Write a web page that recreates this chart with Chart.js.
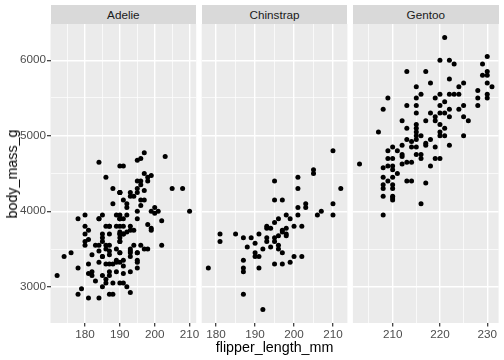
<!DOCTYPE html>
<html>
<head>
<meta charset="utf-8">
<script src="https://cdn.jsdelivr.net/npm/chart.js@4.4.0/dist/chart.umd.min.js"></script>
<style>
  html, body { margin: 0; padding: 0; background: #ffffff; }
  #wrap { position: relative; width: 504px; height: 360px; overflow: hidden; font-family: "Liberation Sans", Arial, sans-serif; }
  #wrap canvas { position: absolute; left: 0; top: 0; }
  .strip { position: absolute; top: 5px; height: 19px; line-height: 19px; background: #D9D9D9; color: #1A1A1A; font-size: 11.7px; text-align: center; }
  .axtitle { position: absolute; color: #000; font-size: 14.3px; white-space: nowrap; }
</style>
</head>
<body>
<div id="wrap">
  <canvas id="c1" width="504" height="360"></canvas>
  <canvas id="c2" width="504" height="360"></canvas>
  <canvas id="c3" width="504" height="360"></canvas>
  <div class="strip" id="s1"></div>
  <div class="strip" id="s2"></div>
  <div class="strip" id="s3"></div>
  <div class="axtitle" id="xtitle">flipper_length_mm</div>
  <div class="axtitle" id="ytitle">body_mass_g</div>
</div>
<script>
// facet labels
const species = ["Adelie", "Chinstrap", "Gentoo"];

// Adelie
const adelieFlipper = [181,186,195,193,190,181,195,193,190,186,180,182,191,198,185,195,197,184,194,
  174,180,189,185,180,187,183,187,172,180,
  178,178,188,184,195,196,190,180,181,184,182,195,186,196,185,190,182,179,190,191,186,188,
  190,200,187,191,186,193,181,194,185,195,185,192,184,192,195,188,
  190,198,190,190,196,197,190,195,191,184,187,195,189,196,187,193,
  191,194,190,189,189,190,202,205,185,186,187,208,190,196,178,192,
  192,203,183,190,193,184,199,190,181,197,198,191,193,197,191,196,
  188,199,189,189,187,198,176,202,186,199,191,195,191,210,190,197,
  193,199,187,190,191,200,185,193,193,187,188,190,192,185,190,184,195,193,187,201];
const adelieMass = [3750,3800,3250,3450,3650,3625,4675,3475,4250,3300,3700,3200,3800,4400,3700,3450,4500,3325,4200,
  3400,3600,3800,3950,3800,3800,3550,3200,3150,3950,
  3250,3900,3300,3900,3325,4150,3950,3550,3300,4650,3150,3900,3100,4400,3000,4600,3425,2975,3450,4150,3500,4300,
  3450,4050,2900,3700,3550,3800,2850,3750,3150,4400,3600,4050,2850,3950,3350,4100,
  3050,4450,3600,3900,3550,4150,3700,4250,3700,3900,3550,4000,3200,4700,3800,4200,
  3350,3550,3800,3500,3950,3600,3550,4300,3400,4450,3300,4300,3700,4350,2900,4100,
  3725,4725,3075,4250,2925,3550,3750,3900,3175,4775,3825,4600,3200,4275,3900,4075,
  2900,3775,3350,3325,3150,3500,3450,3875,3050,4000,3275,4300,3050,4000,3325,3500,
  3500,4475,3425,3900,3175,3975,3400,4250,3400,3475,3050,3725,3000,3650,4250,3475,3450,3750,3700,4000];

// Chinstrap
const chinFlipper = [205,205,210,201,195,201,212,195,197,201,203,203,210,210,206,207,201,198,199,196,
  195,200,202,193,193,194,198,197,197,198,198,196,195,195,193,193,191,189,187,185,
  181,181,190,188,192,194,196,196,197,190,190,191,200,202,199,197,195,191,187,187,
  187,178,187,192];
const chinMass = [4550,4500,4800,4450,4400,4300,4300,4150,4150,4050,4100,4050,4100,3950,3950,4000,3950,3950,3900,3900,
  3850,3800,3800,3800,3775,3775,3775,3750,3725,3700,3675,3675,3650,3600,3650,3600,3700,3650,3650,3700,
  3700,3600,3575,3525,3500,3525,3550,3500,3450,3450,3400,3400,3400,3400,3325,3300,3300,3250,3350,3250,
  3200,3250,2900,2700];

// Gentoo
const gentooFlipper = [213,217,218,215,216,209,215,208,213,215,215,218,212,217,213,207,215,215,215,215,
  216,213,214,215,217,217,218,212,214,215,211,210,209,212,212,215,216,216,213,214,
  212,209,210,203,208,209,210,210,218,211,210,209,208,213,214,217,208,208,208,210,
  210,210,210,216,208,210,
  221,220,222,223,222,224,225,219,220,222,223,224,221,220,220,221,222,219,219,224,
  225,222,225,226,220,221,220,220,221,225,219,222,219,220,
  230,229,230,230,229,230,231,228,228,228,230,230];
const gentooMass = [5850,5850,5700,5650,5550,5500,5500,5350,5400,5400,5300,5300,5200,5200,5100,5050,5150,5100,5050,5000,
  5000,4950,4925,4950,4900,4875,4950,4875,4850,4850,4800,4850,4800,4750,4725,4750,4750,4700,4650,4650,
  4625,4700,4700,4625,4575,4600,4600,4550,4600,4500,4450,4400,4450,4400,4400,4375,4350,4300,4200,4350,
  4300,4200,4150,4100,3950,4175,
  6300,6000,6000,5950,5750,5650,5700,5500,5550,5550,5550,5550,5450,5400,5300,5300,5350,5250,5200,5350,
  5400,5250,5250,5200,5150,5100,5050,5000,5000,5000,4850,4875,4700,4700,
  6050,5950,5850,5800,5800,5700,5650,5600,5500,5400,5550,5500];

// tick breaks
const yTicks = [3000, 4000, 5000, 6000];
const yMinor = [3500, 4500, 5500];
const adelieXTicks = [180, 190, 200, 210];
const adelieXMinor = [175, 185, 195, 205];
const chinXTicks = [180, 190, 200, 210];
const chinXMinor = [185, 195, 205];
const gentooXTicks = [210, 220, 230];
const gentooXMinor = [205, 215, 225];

// ggplot style 5% expansion
function expand(arr) {
  const lo = Math.min(...arr), hi = Math.max(...arr);
  const d = (hi - lo) * 0.05;
  return [lo - d, hi + d];
}
const yLim = expand(adelieMass.concat(chinMass, gentooMass));

// panel positions on the page
const panelTop = 24, panelBottom = 323;
const panels = [
  { left: 50.5, right: 196.2 },
  { left: 201.7, right: 347.4 },
  { left: 352.9, right: 498.6 }
];
const xAxisH = 20;
const font = { family: "'Liberation Sans', Arial, sans-serif", size: 11.7 };

const panelBg = {
  id: "panelBg",
  beforeDraw(chart) {
    const { ctx, chartArea: a } = chart;
    ctx.save();
    ctx.fillStyle = "#EBEBEB";
    ctx.fillRect(a.left, a.top, a.width, a.height);
    ctx.restore();
  }
};

function breakScale(major, minor, opts) {
  const all = major.concat(minor).sort((a, b) => a - b);
  const isMajor = v => major.includes(v);
  return Object.assign({
    type: "linear",
    afterBuildTicks: s => { s.ticks = all.map(v => ({ value: v })); },
    border: { display: false },
    grid: {
      color: "#FFFFFF",
      lineWidth: c => (c.tick && isMajor(c.tick.value)) ? 1.4 : 0.7,
      tickColor: c => (c.tick && isMajor(c.tick.value)) ? "#333333" : "rgba(0,0,0,0)",
      tickWidth: c => (c.tick && isMajor(c.tick.value)) ? 1.2 : 0,
      tickLength: 3.5
    },
    ticks: {
      color: "#4D4D4D",
      font: font,
      autoSkip: false,
      maxRotation: 0,
      padding: 1,
      callback: v => isMajor(v) ? String(v) : ""
    }
  }, opts);
}

function makeChart(id, i, flipper, mass, xMajor, xMinor) {
  const p = panels[i];
  const showY = i === 0;
  const yAxisW = showY ? p.left : 0;
  const xLim = expand(flipper);
  const points = flipper.map((x, k) => ({ x: x, y: mass[k] }));

  const yScale = breakScale(yTicks, yMinor, {
    min: yLim[0], max: yLim[1],
    afterFit: s => { s.width = yAxisW; }
  });
  if (!showY) {
    yScale.ticks.display = false;
    yScale.grid.drawTicks = false;
  }

  return new Chart(document.getElementById(id), {
    type: "scatter",
    data: {
      datasets: [{
        data: points,
        pointRadius: 2.5,
        pointBackgroundColor: "#000000",
        pointBorderWidth: 0
      }]
    },
    options: {
      responsive: false,
      animation: false,
      devicePixelRatio: 1,
      layout: {
        autoPadding: false,
        padding: {
          left: showY ? 0 : p.left,
          right: 504 - p.right,
          top: panelTop,
          bottom: 360 - panelBottom - xAxisH
        }
      },
      plugins: { legend: { display: false }, tooltip: { enabled: false } },
      scales: {
        x: breakScale(xMajor, xMinor, {
          min: xLim[0], max: xLim[1],
          afterFit: s => { s.height = xAxisH; }
        }),
        y: yScale
      }
    },
    plugins: [panelBg]
  });
}

makeChart("c1", 0, adelieFlipper, adelieMass, adelieXTicks, adelieXMinor);
makeChart("c2", 1, chinFlipper, chinMass, chinXTicks, chinXMinor);
makeChart("c3", 2, gentooFlipper, gentooMass, gentooXTicks, gentooXMinor);

// strips and axis titles
species.forEach((name, i) => {
  const s = document.getElementById("s" + (i + 1));
  s.textContent = name;
  s.style.left = panels[i].left + "px";
  s.style.width = (panels[i].right - panels[i].left) + "px";
});
const xt = document.getElementById("xtitle");
xt.style.left = ((panels[0].left + panels[2].right) / 2) + "px";
xt.style.top = "347px";
xt.style.transform = "translate(-50%, -50%)";
const yt = document.getElementById("ytitle");
yt.style.left = "11.5px";
yt.style.top = ((panelTop + panelBottom) / 2) + "px";
yt.style.transform = "translate(-50%, -50%) rotate(-90deg)";
</script>
</body>
</html>
